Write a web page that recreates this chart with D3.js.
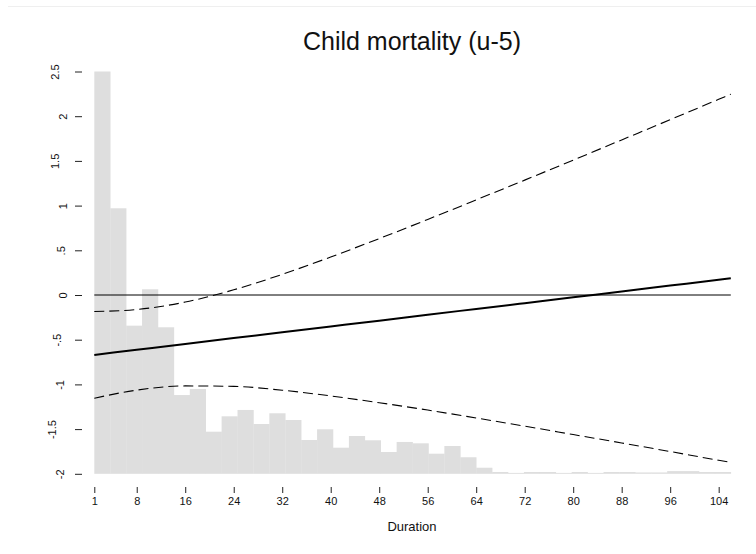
<!DOCTYPE html>
<html>
<head>
<meta charset="utf-8">
<script src="https://cdn.jsdelivr.net/npm/d3@7"></script>
<style>
  body { margin: 0; background: #fff; }
  svg { font-family: "Liberation Sans", Arial, sans-serif; }
</style>
</head>
<body>
<div id="chart"></div>
<script>
// histogram: 40 equal bins from duration 1 to 106, bar tops in y-axis units
var binStart = 1, binEnd = 106;
var barTops = [2.5, 0.97, -0.343, 0.064, -0.361, -1.119, -1.051, -1.529, -1.357, -1.286,
  -1.443, -1.323, -1.398, -1.622, -1.502, -1.708, -1.577, -1.625, -1.756, -1.644,
  -1.659, -1.775, -1.689, -1.815, -1.932, -1.98, -1.99, -1.98, -1.98, -1.99,
  -1.98, -1.99, -1.98, -1.98, -1.985, -1.985, -1.97, -1.97, -1.98, -1.98];

// fitted effect and its confidence band, read at the x ticks
var durations = [1, 8, 16, 24, 32, 40, 48, 56, 64, 72, 80, 88, 96, 104, 106];
var estimate  = [-0.670, -0.613, -0.548, -0.482, -0.417, -0.352, -0.287, -0.221, -0.156, -0.091, -0.026, 0.040, 0.105, 0.170, 0.187];
var upperCI   = [-0.185, -0.162, -0.079, 0.058, 0.231, 0.425, 0.631, 0.845, 1.064, 1.285, 1.509, 1.735, 1.961, 2.189, 2.246];
var lowerCI   = [-1.155, -1.064, -1.017, -1.022, -1.065, -1.129, -1.205, -1.287, -1.376, -1.467, -1.561, -1.655, -1.751, -1.849, -1.872];

var xTicks = [1, 8, 16, 24, 32, 40, 48, 56, 64, 72, 80, 88, 96, 104];
var yTicks = [-2, -1.5, -1, -0.5, 0, 0.5, 1, 1.5, 2, 2.5];
var yLabels = ["-2", "-1.5", "-1", "-.5", "0", ".5", "1", "1.5", "2", "2.5"];

var W = 756, H = 554;
var x = d3.scaleLinear().domain([binStart, binEnd]).range([94.3, 730.8]);
var y = d3.scaleLinear().domain([-2, 2.5]).range([473.8, 71.5]);

var svg = d3.select("#chart").append("svg").attr("width", W).attr("height", H);

// faint outer frame line at the top
svg.append("line").attr("x1", 8).attr("x2", W).attr("y1", 6.5).attr("y2", 6.5)
  .attr("stroke", "#efefef").attr("stroke-width", 1);

var binW = (binEnd - binStart) / barTops.length;
svg.append("g").selectAll("rect").data(barTops).enter().append("rect")
  .attr("x", function(d, i) { return x(binStart + i * binW); })
  .attr("width", function(d, i) { return x(binStart + (i + 1) * binW) - x(binStart + i * binW) + 0.3; })
  .attr("y", function(d) { return y(d); })
  .attr("height", function(d) { return y(-2) - y(d); })
  .attr("fill", "#dedede");

// reference line at zero
svg.append("line").attr("x1", x(binStart)).attr("x2", x(binEnd))
  .attr("y1", y(0)).attr("y2", y(0)).attr("stroke", "#000").attr("stroke-width", 1);

var line = d3.line().x(function(d) { return x(d[0]); }).y(function(d) { return y(d[1]); })
  .curve(d3.curveMonotoneX);

svg.append("path").datum(d3.zip(durations, upperCI)).attr("d", line)
  .attr("fill", "none").attr("stroke", "#000").attr("stroke-width", 1.1).attr("stroke-dasharray", "10,5");
svg.append("path").datum(d3.zip(durations, lowerCI)).attr("d", line)
  .attr("fill", "none").attr("stroke", "#000").attr("stroke-width", 1.1).attr("stroke-dasharray", "10,5");
svg.append("path").datum(d3.zip(durations, estimate)).attr("d", line)
  .attr("fill", "none").attr("stroke", "#000").attr("stroke-width", 2);

// y axis: ticks only, rotated labels (longer labels sit further left)
var ya = svg.append("g").attr("transform", "translate(82,0)")
  .call(d3.axisLeft(y).tickValues(yTicks).tickSize(7).tickPadding(0)
    .tickFormat(function(d, i) { return yLabels[i]; }));
ya.select(".domain").remove();
ya.selectAll(".tick line").attr("stroke", "#222");
ya.selectAll(".tick text")
  .attr("text-anchor", "middle").attr("dy", "0.35em").attr("x", 0)
  .attr("font-size", 11).attr("fill", "#111")
  .attr("transform", function() {
    var w = this.getComputedTextLength();
    return "translate(" + (-13 - 0.9 * w) + ",0) rotate(-90)";
  });

// x axis
var xa = svg.append("g").attr("transform", "translate(0,487)")
  .call(d3.axisBottom(x).tickValues(xTicks).tickSize(6).tickPadding(4).tickFormat(d3.format("d")));
xa.select(".domain").remove();
xa.selectAll(".tick line").attr("stroke", "#222");
xa.selectAll(".tick text").attr("font-size", 11).attr("fill", "#111");

svg.append("text").attr("x", 412).attr("y", 531).attr("text-anchor", "middle")
  .attr("font-size", 13).attr("fill", "#111").text("Duration");

svg.append("text").attr("x", 412).attr("y", 50).attr("text-anchor", "middle")
  .attr("font-size", 25).attr("fill", "#111").text("Child mortality (u-5)");
</script>
</body>
</html>
